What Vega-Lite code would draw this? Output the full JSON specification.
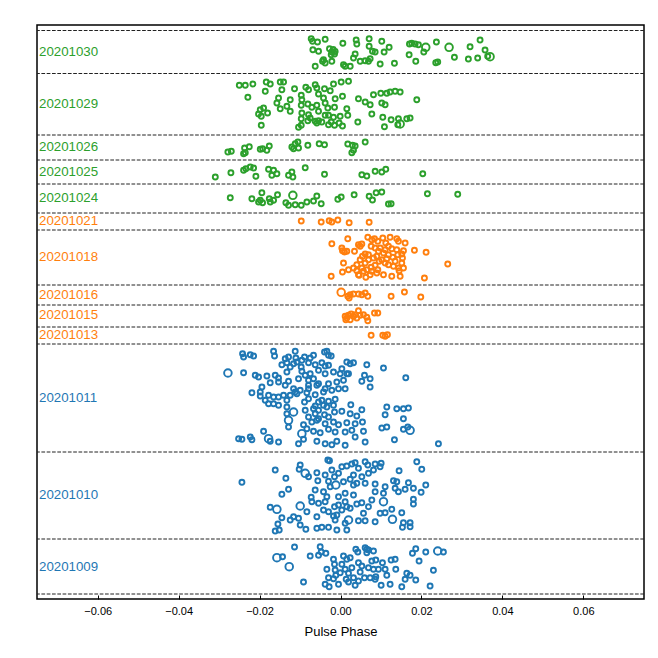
{
  "$schema": "https://vega.github.io/schema/vega-lite/v6.json",
  "width": 607,
  "height": 574,
  "autosize": {"type": "none"},
  "padding": {"left": 37, "top": 25, "right": 14, "bottom": 59},
  "config": {
    "view": {"stroke": "black", "strokeWidth": 1.5},
    "font": "Liberation Sans"
  },
  "datasets": {
    "bounds": [
      {"row": 5}, {"row": 60}, {"row": 147}, {"row": 255}, {"row": 272}, {"row": 294}, {"row": 314},
      {"row": 369}, {"row": 386}, {"row": 415}, {"row": 439}, {"row": 464}, {"row": 525.5}, {"row": 568.5}
    ],
    "labels": [
      {"day": "20201030", "row": 547}, {"day": "20201029", "row": 495}, {"day": "20201026", "row": 452},
      {"day": "20201025", "row": 427}, {"day": "20201024", "row": 401}, {"day": "20201021", "row": 378},
      {"day": "20201018", "row": 342}, {"day": "20201016", "row": 304}, {"day": "20201015", "row": 284},
      {"day": "20201013", "row": 264}, {"day": "20201011", "row": 201}, {"day": "20201010", "row": 104},
      {"day": "20201009", "row": 32}
    ],
    "pulses": [
      {"day": "20201030", "phase": -0.00724, "row": 560.3},
      {"day": "20201030", "phase": -0.00691, "row": 557.7},
      {"day": "20201030", "phase": -0.00568, "row": 557},
      {"day": "20201030", "phase": -0.00379, "row": 559.7},
      {"day": "20201030", "phase": -0.00683, "row": 549.3},
      {"day": "20201030", "phase": -0.00543, "row": 547.7},
      {"day": "20201030", "phase": -0.00272, "row": 550.3},
      {"day": "20201030", "phase": -0.00214, "row": 547},
      {"day": "20201030", "phase": -0.00148, "row": 545},
      {"day": "20201030", "phase": -0.0023, "row": 544.3},
      {"day": "20201030", "phase": -0.0042, "row": 539.3},
      {"day": "20201030", "phase": -0.00444, "row": 537.7},
      {"day": "20201030", "phase": -0.00379, "row": 536},
      {"day": "20201030", "phase": -0.00625, "row": 532.7},
      {"day": "20201030", "phase": -0.00214, "row": 537.7},
      {"day": "20201030", "phase": 0.00074, "row": 534.3},
      {"day": "20201030", "phase": 0.00115, "row": 532.7},
      {"day": "20201030", "phase": 0.0024, "row": 532.7},
      {"day": "20201030", "phase": 0.00058, "row": 555.7},
      {"day": "20201030", "phase": 0.00387, "row": 559},
      {"day": "20201030", "phase": 0.00403, "row": 555},
      {"day": "20201030", "phase": 0.00362, "row": 545},
      {"day": "20201030", "phase": 0.00321, "row": 541},
      {"day": "20201030", "phase": 0.00486, "row": 537.7},
      {"day": "20201030", "phase": 0.0061, "row": 538.3},
      {"day": "20201030", "phase": 0.00708, "row": 560.3},
      {"day": "20201030", "phase": 0.00708, "row": 552.7},
      {"day": "20201030", "phase": 0.00733, "row": 540.3},
      {"day": "20201030", "phase": 0.00691, "row": 537.7},
      {"day": "20201030", "phase": 0.0079, "row": 547.7},
      {"day": "20201030", "phase": 0.00856, "row": 547},
      {"day": "20201030", "phase": 0.0102, "row": 557.7},
      {"day": "20201030", "phase": 0.01078, "row": 547},
      {"day": "20201030", "phase": 0.01202, "row": 551.7},
      {"day": "20201030", "phase": 0.0098, "row": 535},
      {"day": "20201030", "phase": 0.01333, "row": 535.7},
      {"day": "20201030", "phase": 0.01704, "row": 555},
      {"day": "20201030", "phase": 0.0176, "row": 555.7},
      {"day": "20201030", "phase": 0.01844, "row": 555},
      {"day": "20201030", "phase": 0.01926, "row": 554.3},
      {"day": "20201030", "phase": 0.02107, "row": 551.7, "big": 1},
      {"day": "20201030", "phase": 0.02058, "row": 547},
      {"day": "20201030", "phase": 0.0186, "row": 537.7},
      {"day": "20201030", "phase": 0.01696, "row": 544.3},
      {"day": "20201030", "phase": 0.0237, "row": 557},
      {"day": "20201030", "phase": 0.02354, "row": 536.3},
      {"day": "20201030", "phase": 0.02403, "row": 537},
      {"day": "20201030", "phase": 0.02683, "row": 551.7, "big": 1},
      {"day": "20201030", "phase": 0.02815, "row": 541.7},
      {"day": "20201030", "phase": 0.0316, "row": 540},
      {"day": "20201030", "phase": 0.03202, "row": 552.3},
      {"day": "20201030", "phase": 0.0339, "row": 541},
      {"day": "20201030", "phase": 0.03449, "row": 559},
      {"day": "20201030", "phase": 0.03572, "row": 549},
      {"day": "20201030", "phase": 0.03637, "row": 542.7},
      {"day": "20201030", "phase": 0.03696, "row": 542.3, "big": 1},
      {"day": "20201030", "phase": -0.00181, "row": 549.5},
      {"day": "20201030", "phase": -0.00132, "row": 547.5},

      {"day": "20201029", "phase": -0.02501, "row": 513.7},
      {"day": "20201029", "phase": -0.02353, "row": 513.7},
      {"day": "20201029", "phase": -0.02165, "row": 515},
      {"day": "20201029", "phase": -0.02289, "row": 501.7},
      {"day": "20201029", "phase": -0.01835, "row": 517},
      {"day": "20201029", "phase": -0.01736, "row": 515},
      {"day": "20201029", "phase": -0.01859, "row": 507.7},
      {"day": "20201029", "phase": -0.01489, "row": 517},
      {"day": "20201029", "phase": -0.01407, "row": 517},
      {"day": "20201029", "phase": -0.01449, "row": 509.3},
      {"day": "20201029", "phase": -0.01136, "row": 510.3},
      {"day": "20201029", "phase": -0.00857, "row": 511.7},
      {"day": "20201029", "phase": -0.0079, "row": 509.3},
      {"day": "20201029", "phase": -0.00625, "row": 514.3},
      {"day": "20201029", "phase": -0.00585, "row": 511},
      {"day": "20201029", "phase": -0.00395, "row": 510.3},
      {"day": "20201029", "phase": -0.00173, "row": 515},
      {"day": "20201029", "phase": 0.00017, "row": 517},
      {"day": "20201029", "phase": 0.00198, "row": 517.7},
      {"day": "20201029", "phase": -0.00254, "row": 508.3},
      {"day": "20201029", "phase": -0.00543, "row": 505},
      {"day": "20201029", "phase": -0.0097, "row": 503.7},
      {"day": "20201029", "phase": -0.00955, "row": 499.3},
      {"day": "20201029", "phase": -0.01242, "row": 499.3},
      {"day": "20201029", "phase": -0.01531, "row": 501},
      {"day": "20201029", "phase": -0.01572, "row": 496},
      {"day": "20201029", "phase": -0.01489, "row": 490.3},
      {"day": "20201029", "phase": -0.01325, "row": 492.7},
      {"day": "20201029", "phase": -0.01242, "row": 487.7},
      {"day": "20201029", "phase": -0.0097, "row": 493.7},
      {"day": "20201029", "phase": -0.00807, "row": 495},
      {"day": "20201029", "phase": -0.00708, "row": 491.7},
      {"day": "20201029", "phase": -0.00585, "row": 493.7},
      {"day": "20201029", "phase": -0.0042, "row": 501},
      {"day": "20201029", "phase": -0.00379, "row": 496},
      {"day": "20201029", "phase": -0.00313, "row": 491},
      {"day": "20201029", "phase": -0.00132, "row": 500.3},
      {"day": "20201029", "phase": 0.00049, "row": 502.7},
      {"day": "20201029", "phase": 0.00156, "row": 490.3},
      {"day": "20201029", "phase": -0.00148, "row": 491.7},
      {"day": "20201029", "phase": -0.00543, "row": 487.7},
      {"day": "20201029", "phase": -0.00955, "row": 486},
      {"day": "20201029", "phase": -0.0079, "row": 484.3},
      {"day": "20201029", "phase": -0.00749, "row": 481},
      {"day": "20201029", "phase": -0.0097, "row": 480.3},
      {"day": "20201029", "phase": -0.00625, "row": 477.7},
      {"day": "20201029", "phase": -0.00543, "row": 478.3},
      {"day": "20201029", "phase": -0.00379, "row": 483.7},
      {"day": "20201029", "phase": -0.00296, "row": 483.7},
      {"day": "20201029", "phase": -0.00173, "row": 481.7},
      {"day": "20201029", "phase": -0.00008, "row": 482.7},
      {"day": "20201029", "phase": -0.0023, "row": 477},
      {"day": "20201029", "phase": -0.00148, "row": 473.7},
      {"day": "20201029", "phase": -0.00296, "row": 474.3},
      {"day": "20201029", "phase": -0.00461, "row": 477},
      {"day": "20201029", "phase": -0.00585, "row": 476},
      {"day": "20201029", "phase": -0.00807, "row": 478.3},
      {"day": "20201029", "phase": -0.01037, "row": 471.7},
      {"day": "20201029", "phase": -0.0097, "row": 473.7},
      {"day": "20201029", "phase": -0.01958, "row": 473.7},
      {"day": "20201029", "phase": -0.01983, "row": 489.3},
      {"day": "20201029", "phase": -0.01901, "row": 491},
      {"day": "20201029", "phase": -0.02025, "row": 485},
      {"day": "20201029", "phase": -0.01958, "row": 482.7},
      {"day": "20201029", "phase": -0.01802, "row": 486},
      {"day": "20201029", "phase": -0.00033, "row": 476},
      {"day": "20201029", "phase": 0.00049, "row": 473},
      {"day": "20201029", "phase": 0.0018, "row": 483.7},
      {"day": "20201029", "phase": 0.00428, "row": 477},
      {"day": "20201029", "phase": 0.00444, "row": 500.3},
      {"day": "20201029", "phase": 0.0061, "row": 497},
      {"day": "20201029", "phase": 0.00733, "row": 494.3},
      {"day": "20201029", "phase": 0.00815, "row": 504.3},
      {"day": "20201029", "phase": 0.00996, "row": 505.7},
      {"day": "20201029", "phase": 0.0102, "row": 496},
      {"day": "20201029", "phase": 0.01103, "row": 494.3},
      {"day": "20201029", "phase": 0.01144, "row": 505.7},
      {"day": "20201029", "phase": 0.01226, "row": 507},
      {"day": "20201029", "phase": 0.0135, "row": 507.7},
      {"day": "20201029", "phase": 0.01474, "row": 507},
      {"day": "20201029", "phase": 0.01885, "row": 499.3},
      {"day": "20201029", "phase": 0.00774, "row": 485},
      {"day": "20201029", "phase": 0.01045, "row": 481.7},
      {"day": "20201029", "phase": 0.01251, "row": 479.3},
      {"day": "20201029", "phase": 0.01432, "row": 480.3},
      {"day": "20201029", "phase": 0.01474, "row": 475, "big": 1},
      {"day": "20201029", "phase": 0.01638, "row": 480.3},
      {"day": "20201029", "phase": 0.0172, "row": 481},
      {"day": "20201029", "phase": 0.01086, "row": 472.3},
      {"day": "20201029", "phase": 0.01416, "row": 474.3},

      {"day": "20201026", "phase": -0.02783, "row": 447},
      {"day": "20201026", "phase": -0.02699, "row": 447.7},
      {"day": "20201026", "phase": -0.0237, "row": 451},
      {"day": "20201026", "phase": -0.02353, "row": 446.3},
      {"day": "20201026", "phase": -0.02395, "row": 445.3},
      {"day": "20201026", "phase": -0.02254, "row": 452.3},
      {"day": "20201026", "phase": -0.01983, "row": 449.7},
      {"day": "20201026", "phase": -0.01926, "row": 450.3},
      {"day": "20201026", "phase": -0.0182, "row": 448.7},
      {"day": "20201026", "phase": -0.0176, "row": 453},
      {"day": "20201026", "phase": -0.01202, "row": 452},
      {"day": "20201026", "phase": -0.01119, "row": 455.3},
      {"day": "20201026", "phase": -0.01053, "row": 457},
      {"day": "20201026", "phase": -0.0116, "row": 450.3},
      {"day": "20201026", "phase": -0.01037, "row": 451},
      {"day": "20201026", "phase": -0.00807, "row": 453.7},
      {"day": "20201026", "phase": -0.00527, "row": 455.3},
      {"day": "20201026", "phase": -0.00395, "row": 454.3},
      {"day": "20201026", "phase": 0.0018, "row": 455},
      {"day": "20201026", "phase": 0.00296, "row": 453.7},
      {"day": "20201026", "phase": 0.00362, "row": 453},
      {"day": "20201026", "phase": 0.00321, "row": 448.7},
      {"day": "20201026", "phase": 0.0028, "row": 446.3},
      {"day": "20201026", "phase": 0.0061, "row": 457},

      {"day": "20201025", "phase": -0.03094, "row": 422},
      {"day": "20201025", "phase": -0.02708, "row": 426.3},
      {"day": "20201025", "phase": -0.02395, "row": 428.7},
      {"day": "20201025", "phase": -0.02338, "row": 430.3},
      {"day": "20201025", "phase": -0.0223, "row": 432},
      {"day": "20201025", "phase": -0.02148, "row": 431},
      {"day": "20201025", "phase": -0.02091, "row": 422.7},
      {"day": "20201025", "phase": -0.01778, "row": 429.7},
      {"day": "20201025", "phase": -0.01654, "row": 428.7},
      {"day": "20201025", "phase": -0.01696, "row": 423.7},
      {"day": "20201025", "phase": -0.01572, "row": 425.3},
      {"day": "20201025", "phase": -0.01284, "row": 423.7},
      {"day": "20201025", "phase": -0.01202, "row": 427},
      {"day": "20201025", "phase": -0.01177, "row": 422},
      {"day": "20201025", "phase": -0.00872, "row": 431.3},
      {"day": "20201025", "phase": -0.00395, "row": 424.7},
      {"day": "20201025", "phase": 0.00527, "row": 424.3},
      {"day": "20201025", "phase": 0.0065, "row": 423},
      {"day": "20201025", "phase": 0.00856, "row": 427.7},
      {"day": "20201025", "phase": 0.0102, "row": 427},
      {"day": "20201025", "phase": 0.01119, "row": 429.7},
      {"day": "20201025", "phase": 0.02033, "row": 425.3},

      {"day": "20201024", "phase": -0.02724, "row": 401.3},
      {"day": "20201024", "phase": -0.0219, "row": 400.3},
      {"day": "20201024", "phase": -0.01983, "row": 398.7},
      {"day": "20201024", "phase": -0.01943, "row": 406.3},
      {"day": "20201024", "phase": -0.01926, "row": 396.3},
      {"day": "20201024", "phase": -0.02025, "row": 397},
      {"day": "20201024", "phase": -0.0176, "row": 400.3},
      {"day": "20201024", "phase": -0.01736, "row": 397},
      {"day": "20201024", "phase": -0.01654, "row": 398.7},
      {"day": "20201024", "phase": -0.01556, "row": 404.3},
      {"day": "20201024", "phase": -0.01177, "row": 403.7, "big": 1},
      {"day": "20201024", "phase": -0.0135, "row": 396.3},
      {"day": "20201024", "phase": -0.01284, "row": 393.7},
      {"day": "20201024", "phase": -0.01119, "row": 394.3},
      {"day": "20201024", "phase": -0.0097, "row": 393.7},
      {"day": "20201024", "phase": -0.00831, "row": 397},
      {"day": "20201024", "phase": -0.00667, "row": 398},
      {"day": "20201024", "phase": -0.00585, "row": 403},
      {"day": "20201024", "phase": -0.00477, "row": 395.3},
      {"day": "20201024", "phase": -0.00066, "row": 399.7},
      {"day": "20201024", "phase": 0.00017, "row": 402},
      {"day": "20201024", "phase": 0.00337, "row": 404.3},
      {"day": "20201024", "phase": 0.00708, "row": 402.7},
      {"day": "20201024", "phase": 0.0079, "row": 399},
      {"day": "20201024", "phase": 0.00881, "row": 406.3},
      {"day": "20201024", "phase": 0.0102, "row": 407},
      {"day": "20201024", "phase": 0.01185, "row": 395},
      {"day": "20201024", "phase": 0.01251, "row": 395.3},
      {"day": "20201024", "phase": 0.02148, "row": 405.3},
      {"day": "20201024", "phase": 0.02897, "row": 404.7},

      {"day": "20201021", "phase": -0.0097, "row": 378},
      {"day": "20201021", "phase": -0.00477, "row": 377},
      {"day": "20201021", "phase": -0.0028, "row": 378.3},
      {"day": "20201021", "phase": -0.00214, "row": 377},
      {"day": "20201021", "phase": -0.00066, "row": 379},
      {"day": "20201021", "phase": 0.00214, "row": 376.3},
      {"day": "20201021", "phase": 0.00708, "row": 376.7},

      {"day": "20201018", "phase": -0.00214, "row": 355.3},
      {"day": "20201018", "phase": 0.0018, "row": 360.3},
      {"day": "20201018", "phase": 0.00033, "row": 351},
      {"day": "20201018", "phase": 0.00099, "row": 347},
      {"day": "20201018", "phase": 0.00049, "row": 348.3},
      {"day": "20201018", "phase": 0.00156, "row": 347.7},
      {"day": "20201018", "phase": 0.00346, "row": 347.7},
      {"day": "20201018", "phase": 0.00444, "row": 354.3},
      {"day": "20201018", "phase": 0.00527, "row": 355},
      {"day": "20201018", "phase": 0.00486, "row": 352.7},
      {"day": "20201018", "phase": 0.00675, "row": 361.7},
      {"day": "20201018", "phase": 0.00774, "row": 359.3},
      {"day": "20201018", "phase": 0.0084, "row": 360.3},
      {"day": "20201018", "phase": 0.00922, "row": 357.7},
      {"day": "20201018", "phase": 0.01045, "row": 361},
      {"day": "20201018", "phase": 0.01119, "row": 356},
      {"day": "20201018", "phase": 0.01226, "row": 361.7},
      {"day": "20201018", "phase": 0.0139, "row": 360.3},
      {"day": "20201018", "phase": 0.01432, "row": 357.7},
      {"day": "20201018", "phase": 0.01597, "row": 356},
      {"day": "20201018", "phase": 0.01185, "row": 352.7},
      {"day": "20201018", "phase": 0.0098, "row": 351},
      {"day": "20201018", "phase": 0.01103, "row": 349.3},
      {"day": "20201018", "phase": 0.01267, "row": 350.3},
      {"day": "20201018", "phase": 0.0139, "row": 349.3},
      {"day": "20201018", "phase": 0.01556, "row": 348.3},
      {"day": "20201018", "phase": 0.01514, "row": 345},
      {"day": "20201018", "phase": 0.01416, "row": 344.3},
      {"day": "20201018", "phase": 0.01292, "row": 341.7},
      {"day": "20201018", "phase": 0.01185, "row": 344.3},
      {"day": "20201018", "phase": 0.01062, "row": 346},
      {"day": "20201018", "phase": 0.00938, "row": 347.7},
      {"day": "20201018", "phase": 0.00856, "row": 351},
      {"day": "20201018", "phase": 0.00757, "row": 352.7},
      {"day": "20201018", "phase": 0.00691, "row": 344.3},
      {"day": "20201018", "phase": 0.0061, "row": 345},
      {"day": "20201018", "phase": 0.00543, "row": 342.7},
      {"day": "20201018", "phase": 0.00486, "row": 339.3},
      {"day": "20201018", "phase": 0.00403, "row": 334.3},
      {"day": "20201018", "phase": 0.00321, "row": 331},
      {"day": "20201018", "phase": 0.00198, "row": 329.3},
      {"day": "20201018", "phase": 0.00074, "row": 336},
      {"day": "20201018", "phase": 0.00049, "row": 327},
      {"day": "20201018", "phase": -0.0023, "row": 322.7},
      {"day": "20201018", "phase": 0.00403, "row": 328.3},
      {"day": "20201018", "phase": 0.00461, "row": 323.7},
      {"day": "20201018", "phase": 0.00568, "row": 327.7},
      {"day": "20201018", "phase": 0.0065, "row": 329.3},
      {"day": "20201018", "phase": 0.00757, "row": 331.7},
      {"day": "20201018", "phase": 0.00856, "row": 333.7},
      {"day": "20201018", "phase": 0.00955, "row": 337.7},
      {"day": "20201018", "phase": 0.0102, "row": 339.3},
      {"day": "20201018", "phase": 0.01103, "row": 336},
      {"day": "20201018", "phase": 0.01185, "row": 334.3},
      {"day": "20201018", "phase": 0.01309, "row": 332.7},
      {"day": "20201018", "phase": 0.01432, "row": 331},
      {"day": "20201018", "phase": 0.01514, "row": 336},
      {"day": "20201018", "phase": 0.01531, "row": 341},
      {"day": "20201018", "phase": 0.01449, "row": 328.3},
      {"day": "20201018", "phase": 0.01474, "row": 322.7},
      {"day": "20201018", "phase": 0.01267, "row": 322.7},
      {"day": "20201018", "phase": 0.01062, "row": 324.3},
      {"day": "20201018", "phase": 0.00897, "row": 326},
      {"day": "20201018", "phase": 0.00733, "row": 324.3},
      {"day": "20201018", "phase": 0.00626, "row": 321.7},
      {"day": "20201018", "phase": 0.00444, "row": 324.3},
      {"day": "20201018", "phase": 0.01827, "row": 348.7},
      {"day": "20201018", "phase": 0.02115, "row": 346.7},
      {"day": "20201018", "phase": 0.02074, "row": 321},
      {"day": "20201018", "phase": 0.0265, "row": 335},
      {"day": "20201018", "phase": 0.00815, "row": 341},
      {"day": "20201018", "phase": 0.00897, "row": 342.7},
      {"day": "20201018", "phase": 0.01144, "row": 340.3},
      {"day": "20201018", "phase": 0.0135, "row": 337.7},
      {"day": "20201018", "phase": 0.01556, "row": 331},
      {"day": "20201018", "phase": 0.0061, "row": 336},
      {"day": "20201018", "phase": 0.00691, "row": 339.3},
      {"day": "20201018", "phase": 0.00527, "row": 331},
      {"day": "20201018", "phase": 0.00774, "row": 327.7},
      {"day": "20201018", "phase": 0.00922, "row": 329.3},

      {"day": "20201016", "phase": 0.00017, "row": 306.7, "big": 1},
      {"day": "20201016", "phase": 0.0018, "row": 302.7},
      {"day": "20201016", "phase": 0.0024, "row": 304.3},
      {"day": "20201016", "phase": 0.00321, "row": 305},
      {"day": "20201016", "phase": 0.00444, "row": 305},
      {"day": "20201016", "phase": 0.00527, "row": 304.3},
      {"day": "20201016", "phase": 0.0061, "row": 306},
      {"day": "20201016", "phase": 0.00675, "row": 302.7},
      {"day": "20201016", "phase": 0.00214, "row": 301},
      {"day": "20201016", "phase": 0.01251, "row": 302.7},
      {"day": "20201016", "phase": 0.0158, "row": 307},
      {"day": "20201016", "phase": 0.01984, "row": 302},

      {"day": "20201015", "phase": 0.00115, "row": 282.7},
      {"day": "20201015", "phase": 0.00156, "row": 281},
      {"day": "20201015", "phase": 0.00198, "row": 283.7},
      {"day": "20201015", "phase": 0.00263, "row": 285},
      {"day": "20201015", "phase": 0.00321, "row": 282.7},
      {"day": "20201015", "phase": 0.00362, "row": 284.3},
      {"day": "20201015", "phase": 0.00444, "row": 288.3},
      {"day": "20201015", "phase": 0.00486, "row": 283.7},
      {"day": "20201015", "phase": 0.00568, "row": 284.3},
      {"day": "20201015", "phase": 0.0065, "row": 281.7},
      {"day": "20201015", "phase": 0.00675, "row": 278.3},
      {"day": "20201015", "phase": 0.0024, "row": 279.3},
      {"day": "20201015", "phase": 0.00132, "row": 279.3},
      {"day": "20201015", "phase": 0.00403, "row": 281},
      {"day": "20201015", "phase": 0.0084, "row": 286},
      {"day": "20201015", "phase": 0.00922, "row": 286},

      {"day": "20201013", "phase": 0.00757, "row": 263.7},
      {"day": "20201013", "phase": 0.01045, "row": 263.7},
      {"day": "20201013", "phase": 0.01103, "row": 262.7},
      {"day": "20201013", "phase": 0.0116, "row": 264.3},

      {"day": "20201011", "phase": -0.0242, "row": 245.3},
      {"day": "20201011", "phase": -0.02395, "row": 242},
      {"day": "20201011", "phase": -0.0223, "row": 244.3},
      {"day": "20201011", "phase": -0.02148, "row": 243},
      {"day": "20201011", "phase": -0.01654, "row": 247.7},
      {"day": "20201011", "phase": -0.0163, "row": 243},
      {"day": "20201011", "phase": -0.01366, "row": 240.3},
      {"day": "20201011", "phase": -0.01284, "row": 242},
      {"day": "20201011", "phase": -0.01119, "row": 247.7},
      {"day": "20201011", "phase": -0.01103, "row": 241},
      {"day": "20201011", "phase": -0.00889, "row": 242},
      {"day": "20201011", "phase": -0.00749, "row": 241},
      {"day": "20201011", "phase": -0.00667, "row": 243.7},
      {"day": "20201011", "phase": -0.00395, "row": 247},
      {"day": "20201011", "phase": -0.00337, "row": 247.7},
      {"day": "20201011", "phase": -0.00296, "row": 243.7},
      {"day": "20201011", "phase": -0.0023, "row": 243},
      {"day": "20201011", "phase": 0.00156, "row": 237},
      {"day": "20201011", "phase": 0.00239, "row": 235.3},
      {"day": "20201011", "phase": 0.00321, "row": 236.3},
      {"day": "20201011", "phase": -0.01449, "row": 234.3},
      {"day": "20201011", "phase": -0.01325, "row": 236.3},
      {"day": "20201011", "phase": -0.01243, "row": 232},
      {"day": "20201011", "phase": -0.0116, "row": 235.3},
      {"day": "20201011", "phase": -0.00971, "row": 232},
      {"day": "20201011", "phase": -0.0079, "row": 236.3},
      {"day": "20201011", "phase": -0.00625, "row": 234.3},
      {"day": "20201011", "phase": -0.00461, "row": 236.3},
      {"day": "20201011", "phase": -0.00379, "row": 233},
      {"day": "20201011", "phase": -0.00296, "row": 233.7},
      {"day": "20201011", "phase": 0.00033, "row": 230.3},
      {"day": "20201011", "phase": 0.00156, "row": 225.3},
      {"day": "20201011", "phase": 0.0065, "row": 234.3},
      {"day": "20201011", "phase": 0.01062, "row": 231},
      {"day": "20201011", "phase": -0.02782, "row": 226, "big": 1},
      {"day": "20201011", "phase": -0.02395, "row": 226.3},
      {"day": "20201011", "phase": -0.02107, "row": 223.7},
      {"day": "20201011", "phase": -0.02025, "row": 222},
      {"day": "20201011", "phase": -0.01819, "row": 223},
      {"day": "20201011", "phase": -0.01613, "row": 223.7},
      {"day": "20201011", "phase": -0.01531, "row": 221},
      {"day": "20201011", "phase": -0.01325, "row": 227},
      {"day": "20201011", "phase": -0.00955, "row": 227.7},
      {"day": "20201011", "phase": -0.00749, "row": 225.3},
      {"day": "20201011", "phase": -0.00543, "row": 228.7},
      {"day": "20201011", "phase": -0.00379, "row": 225.3},
      {"day": "20201011", "phase": -0.00173, "row": 227},
      {"day": "20201011", "phase": -0.00008, "row": 225.3},
      {"day": "20201011", "phase": 0.00198, "row": 225.3},
      {"day": "20201011", "phase": 0.00593, "row": 223.7},
      {"day": "20201011", "phase": 0.00732, "row": 220.3},
      {"day": "20201011", "phase": 0.01613, "row": 221.3},
      {"day": "20201011", "phase": -0.01737, "row": 216.3},
      {"day": "20201011", "phase": -0.01531, "row": 217},
      {"day": "20201011", "phase": -0.01284, "row": 217.7},
      {"day": "20201011", "phase": -0.01037, "row": 220.3},
      {"day": "20201011", "phase": -0.0079, "row": 218.7},
      {"day": "20201011", "phase": -0.00543, "row": 215.3},
      {"day": "20201011", "phase": -0.0079, "row": 213.7},
      {"day": "20201011", "phase": -0.00296, "row": 215.3},
      {"day": "20201011", "phase": -0.00091, "row": 217},
      {"day": "20201011", "phase": 0.00074, "row": 218.7},
      {"day": "20201011", "phase": -0.00049, "row": 210.3},
      {"day": "20201011", "phase": 0.00115, "row": 210.3},
      {"day": "20201011", "phase": -0.00214, "row": 208.7},
      {"day": "20201011", "phase": -0.00379, "row": 210.3},
      {"day": "20201011", "phase": -0.00584, "row": 213.7},
      {"day": "20201011", "phase": 0.00527, "row": 217.7},
      {"day": "20201011", "phase": 0.00732, "row": 212},
      {"day": "20201011", "phase": -0.01942, "row": 212},
      {"day": "20201011", "phase": -0.01983, "row": 207},
      {"day": "20201011", "phase": -0.02189, "row": 206.3},
      {"day": "20201011", "phase": -0.00996, "row": 208.7},
      {"day": "20201011", "phase": -0.01119, "row": 207},
      {"day": "20201011", "phase": -0.01078, "row": 205.3},
      {"day": "20201011", "phase": -0.00831, "row": 206.3},
      {"day": "20201011", "phase": -0.00625, "row": 204.3},
      {"day": "20201011", "phase": -0.0042, "row": 207},
      {"day": "20201011", "phase": -0.01983, "row": 203},
      {"day": "20201011", "phase": -0.01778, "row": 203.7},
      {"day": "20201011", "phase": -0.01654, "row": 202},
      {"day": "20201011", "phase": -0.01531, "row": 202},
      {"day": "20201011", "phase": -0.01407, "row": 203.7},
      {"day": "20201011", "phase": -0.01243, "row": 203.7},
      {"day": "20201011", "phase": -0.0079, "row": 200.3},
      {"day": "20201011", "phase": -0.0186, "row": 198.7},
      {"day": "20201011", "phase": -0.01778, "row": 195.3},
      {"day": "20201011", "phase": -0.01654, "row": 195.3},
      {"day": "20201011", "phase": -0.01531, "row": 193.7},
      {"day": "20201011", "phase": -0.01325, "row": 198.7},
      {"day": "20201011", "phase": -0.00889, "row": 197},
      {"day": "20201011", "phase": -0.00543, "row": 197},
      {"day": "20201011", "phase": -0.00461, "row": 198.7},
      {"day": "20201011", "phase": -0.00296, "row": 197.7},
      {"day": "20201011", "phase": -0.00132, "row": 199.7},
      {"day": "20201011", "phase": -0.01325, "row": 192},
      {"day": "20201011", "phase": -0.00625, "row": 193},
      {"day": "20201011", "phase": -0.0042, "row": 193.7},
      {"day": "20201011", "phase": -0.00337, "row": 192},
      {"day": "20201011", "phase": -0.00173, "row": 193.7},
      {"day": "20201011", "phase": 0.00255, "row": 194.3},
      {"day": "20201011", "phase": 0.00527, "row": 189.3},
      {"day": "20201011", "phase": -0.0116, "row": 187, "big": 1},
      {"day": "20201011", "phase": -0.01325, "row": 185.3},
      {"day": "20201011", "phase": -0.00872, "row": 188.7},
      {"day": "20201011", "phase": -0.00667, "row": 190.3},
      {"day": "20201011", "phase": -0.00543, "row": 188.7},
      {"day": "20201011", "phase": -0.00395, "row": 184.3},
      {"day": "20201011", "phase": -0.00148, "row": 187},
      {"day": "20201011", "phase": 0.00033, "row": 187.7},
      {"day": "20201011", "phase": 0.00239, "row": 185.3},
      {"day": "20201011", "phase": 0.00403, "row": 183},
      {"day": "20201011", "phase": 0.01144, "row": 192},
      {"day": "20201011", "phase": 0.01391, "row": 190.3},
      {"day": "20201011", "phase": 0.01555, "row": 190.3},
      {"day": "20201011", "phase": 0.01679, "row": 191},
      {"day": "20201011", "phase": 0.01103, "row": 184.3},
      {"day": "20201011", "phase": 0.01555, "row": 180.3},
      {"day": "20201011", "phase": -0.01284, "row": 178.7, "big": 1},
      {"day": "20201011", "phase": -0.0079, "row": 182},
      {"day": "20201011", "phase": -0.00708, "row": 177},
      {"day": "20201011", "phase": -0.00584, "row": 178.7},
      {"day": "20201011", "phase": -0.00379, "row": 175.3},
      {"day": "20201011", "phase": -0.00173, "row": 177},
      {"day": "20201011", "phase": -0.00049, "row": 174.3},
      {"day": "20201011", "phase": 0.00156, "row": 176.3},
      {"day": "20201011", "phase": 0.00362, "row": 175.3},
      {"day": "20201011", "phase": 0.00543, "row": 177},
      {"day": "20201011", "phase": -0.00914, "row": 174.3},
      {"day": "20201011", "phase": -0.00831, "row": 170.3},
      {"day": "20201011", "phase": -0.00955, "row": 165.3, "big": 1},
      {"day": "20201011", "phase": -0.00667, "row": 167.7},
      {"day": "20201011", "phase": -0.00502, "row": 166.3},
      {"day": "20201011", "phase": -0.00296, "row": 169.7},
      {"day": "20201011", "phase": -0.00132, "row": 167},
      {"day": "20201011", "phase": 0.00115, "row": 167},
      {"day": "20201011", "phase": 0.0028, "row": 168.7},
      {"day": "20201011", "phase": 0.00568, "row": 167.7},
      {"day": "20201011", "phase": 0.01021, "row": 171},
      {"day": "20201011", "phase": 0.01144, "row": 172},
      {"day": "20201011", "phase": 0.01555, "row": 169.7},
      {"day": "20201011", "phase": 0.01663, "row": 172},
      {"day": "20201011", "phase": 0.0172, "row": 168.7, "big": 1},
      {"day": "20201011", "phase": -0.01901, "row": 167.7},
      {"day": "20201011", "phase": -0.01284, "row": 172},
      {"day": "20201011", "phase": -0.02518, "row": 160.3},
      {"day": "20201011", "phase": -0.02436, "row": 159.7},
      {"day": "20201011", "phase": -0.0223, "row": 162},
      {"day": "20201011", "phase": -0.02189, "row": 159.3},
      {"day": "20201011", "phase": -0.01778, "row": 160.3, "big": 1},
      {"day": "20201011", "phase": -0.01737, "row": 157.7},
      {"day": "20201011", "phase": -0.01531, "row": 157},
      {"day": "20201011", "phase": -0.01037, "row": 155.3},
      {"day": "20201011", "phase": -0.00914, "row": 159.7},
      {"day": "20201011", "phase": -0.00584, "row": 157.7},
      {"day": "20201011", "phase": -0.00379, "row": 155.3},
      {"day": "20201011", "phase": -0.00214, "row": 154.3},
      {"day": "20201011", "phase": -0.00091, "row": 157.7},
      {"day": "20201011", "phase": 0.00115, "row": 153.7},
      {"day": "20201011", "phase": 0.00362, "row": 162},
      {"day": "20201011", "phase": 0.00609, "row": 157},
      {"day": "20201011", "phase": 0.01333, "row": 159.3},
      {"day": "20201011", "phase": 0.0242, "row": 155.3},
      {"day": "20201011", "phase": -0.0079, "row": 210.3},
      {"day": "20201011", "phase": -0.00667, "row": 220.3},
      {"day": "20201011", "phase": -0.00872, "row": 223.7},
      {"day": "20201011", "phase": -0.01366, "row": 213.7},
      {"day": "20201011", "phase": -0.0116, "row": 210.3},
      {"day": "20201011", "phase": -0.00625, "row": 185.3},
      {"day": "20201011", "phase": -0.00543, "row": 180.3},
      {"day": "20201011", "phase": -0.00296, "row": 182},
      {"day": "20201011", "phase": -0.01078, "row": 237},
      {"day": "20201011", "phase": -0.00955, "row": 238.7},

      {"day": "20201010", "phase": -0.02436, "row": 116.7},
      {"day": "20201010", "phase": -0.01613, "row": 129},
      {"day": "20201010", "phase": -0.0135, "row": 120.7},
      {"day": "20201010", "phase": -0.01449, "row": 104.7},
      {"day": "20201010", "phase": -0.01284, "row": 109.7},
      {"day": "20201010", "phase": -0.01737, "row": 91.7},
      {"day": "20201010", "phase": -0.01572, "row": 89.7, "big": 1},
      {"day": "20201010", "phase": -0.01449, "row": 81.3},
      {"day": "20201010", "phase": -0.01547, "row": 75},
      {"day": "20201010", "phase": -0.01613, "row": 68},
      {"day": "20201010", "phase": -0.01514, "row": 69},
      {"day": "20201010", "phase": -0.0116, "row": 82.3},
      {"day": "20201010", "phase": -0.01037, "row": 80.7},
      {"day": "20201010", "phase": -0.00996, "row": 74},
      {"day": "20201010", "phase": -0.00856, "row": 69.7},
      {"day": "20201010", "phase": -0.00996, "row": 93, "big": 1},
      {"day": "20201010", "phase": -0.00831, "row": 87.3},
      {"day": "20201010", "phase": -0.00996, "row": 134},
      {"day": "20201010", "phase": -0.01021, "row": 129.7},
      {"day": "20201010", "phase": -0.00872, "row": 125.7, "big": 1},
      {"day": "20201010", "phase": -0.0079, "row": 122.3},
      {"day": "20201010", "phase": -0.00584, "row": 126.3},
      {"day": "20201010", "phase": -0.0056, "row": 118.3},
      {"day": "20201010", "phase": -0.00379, "row": 124},
      {"day": "20201010", "phase": -0.00313, "row": 139},
      {"day": "20201010", "phase": -0.00272, "row": 138.3},
      {"day": "20201010", "phase": -0.00214, "row": 129},
      {"day": "20201010", "phase": -0.00148, "row": 122.3},
      {"day": "20201010", "phase": -0.00115, "row": 114, "big": 1},
      {"day": "20201010", "phase": 0.00033, "row": 132.3},
      {"day": "20201010", "phase": 0.00156, "row": 133},
      {"day": "20201010", "phase": 0.0028, "row": 135},
      {"day": "20201010", "phase": 0.00362, "row": 136.3},
      {"day": "20201010", "phase": 0.00444, "row": 130.7},
      {"day": "20201010", "phase": 0.00609, "row": 137.3},
      {"day": "20201010", "phase": 0.00675, "row": 134},
      {"day": "20201010", "phase": 0.00856, "row": 135},
      {"day": "20201010", "phase": 0.01004, "row": 135.7},
      {"day": "20201010", "phase": 0.00321, "row": 124},
      {"day": "20201010", "phase": 0.00403, "row": 115.7},
      {"day": "20201010", "phase": 0.00609, "row": 115.7},
      {"day": "20201010", "phase": 0.00856, "row": 115},
      {"day": "20201010", "phase": 0.01103, "row": 112.3},
      {"day": "20201010", "phase": 0.01309, "row": 118.3},
      {"day": "20201010", "phase": 0.01391, "row": 117.3},
      {"day": "20201010", "phase": 0.01448, "row": 128.3},
      {"day": "20201010", "phase": 0.01679, "row": 116.3},
      {"day": "20201010", "phase": 0.01597, "row": 109.7},
      {"day": "20201010", "phase": 0.01885, "row": 137.3},
      {"day": "20201010", "phase": 0.02008, "row": 129.7},
      {"day": "20201010", "phase": 0.02107, "row": 114},
      {"day": "20201010", "phase": 0.01992, "row": 106.7},
      {"day": "20201010", "phase": 0.01802, "row": 99.7},
      {"day": "20201010", "phase": 0.01802, "row": 95},
      {"day": "20201010", "phase": 0.01514, "row": 86.3},
      {"day": "20201010", "phase": 0.01267, "row": 89.7},
      {"day": "20201010", "phase": 0.01103, "row": 86.3},
      {"day": "20201010", "phase": 0.00979, "row": 85.7},
      {"day": "20201010", "phase": 0.01284, "row": 79.7, "big": 1},
      {"day": "20201010", "phase": 0.01555, "row": 76.3},
      {"day": "20201010", "phase": 0.0172, "row": 76.3},
      {"day": "20201010", "phase": 0.01531, "row": 71.7},
      {"day": "20201010", "phase": 0.0172, "row": 72.3},
      {"day": "20201010", "phase": 0.00856, "row": 77.3},
      {"day": "20201010", "phase": 0.00774, "row": 99},
      {"day": "20201010", "phase": 0.00856, "row": 107.3},
      {"day": "20201010", "phase": 0.01062, "row": 105.7},
      {"day": "20201010", "phase": 0.01062, "row": 97.3, "big": 1},
      {"day": "20201010", "phase": 0.00691, "row": 92.3},
      {"day": "20201010", "phase": 0.00527, "row": 96.3},
      {"day": "20201010", "phase": 0.00403, "row": 95},
      {"day": "20201010", "phase": 0.00568, "row": 85.7},
      {"day": "20201010", "phase": 0.00609, "row": 78.3},
      {"day": "20201010", "phase": 0.00444, "row": 78.3},
      {"day": "20201010", "phase": 0.00198, "row": 79, "big": 1},
      {"day": "20201010", "phase": 0.00115, "row": 75.7},
      {"day": "20201010", "phase": 0.00156, "row": 69},
      {"day": "20201010", "phase": -0.0009, "row": 69},
      {"day": "20201010", "phase": -0.00296, "row": 71.7},
      {"day": "20201010", "phase": -0.00461, "row": 71.7},
      {"day": "20201010", "phase": -0.00584, "row": 70.7},
      {"day": "20201010", "phase": -0.00132, "row": 79},
      {"day": "20201010", "phase": -0.0009, "row": 84},
      {"day": "20201010", "phase": 0.00033, "row": 89},
      {"day": "20201010", "phase": 0.00156, "row": 92.3},
      {"day": "20201010", "phase": 0.00239, "row": 90.7},
      {"day": "20201010", "phase": -0.00148, "row": 92.3},
      {"day": "20201010", "phase": -0.00296, "row": 87.3},
      {"day": "20201010", "phase": -0.0042, "row": 89},
      {"day": "20201010", "phase": -0.00584, "row": 82.3},
      {"day": "20201010", "phase": -0.00379, "row": 97.3},
      {"day": "20201010", "phase": -0.00543, "row": 95.7},
      {"day": "20201010", "phase": -0.00708, "row": 97.3},
      {"day": "20201010", "phase": -0.00724, "row": 101.7},
      {"day": "20201010", "phase": -0.00626, "row": 109},
      {"day": "20201010", "phase": -0.0042, "row": 107.3},
      {"day": "20201010", "phase": -0.00337, "row": 102.3},
      {"day": "20201010", "phase": -0.00049, "row": 102.3},
      {"day": "20201010", "phase": 0.00115, "row": 105.7},
      {"day": "20201010", "phase": 0.00321, "row": 104},
      {"day": "20201010", "phase": 0.00115, "row": 97.3},
      {"day": "20201010", "phase": -0.00049, "row": 94},
      {"day": "20201010", "phase": -0.00173, "row": 83},
      {"day": "20201010", "phase": 0.00074, "row": 117.3},
      {"day": "20201010", "phase": 0.00239, "row": 119.7},
      {"day": "20201010", "phase": 0.00321, "row": 114},
      {"day": "20201010", "phase": -0.00255, "row": 112.3},
      {"day": "20201010", "phase": 0.00527, "row": 122.3},
      {"day": "20201010", "phase": 0.00691, "row": 125.7},
      {"day": "20201010", "phase": 0.00815, "row": 129},
      {"day": "20201010", "phase": 0.00979, "row": 132.3},
      {"day": "20201010", "phase": 0.0135, "row": 110.7},
      {"day": "20201010", "phase": 0.01432, "row": 107.3},
      {"day": "20201010", "phase": 0.01802, "row": 110.7},
      {"day": "20201010", "phase": -0.01243, "row": 79},
      {"day": "20201010", "phase": -0.00296, "row": 117.7},
      {"day": "20201010", "phase": -0.00049, "row": 125.7},

      {"day": "20201009", "phase": -0.01572, "row": 41.3, "big": 1},
      {"day": "20201009", "phase": -0.01432, "row": 42.3},
      {"day": "20201009", "phase": -0.01267, "row": 32.3, "big": 1},
      {"day": "20201009", "phase": -0.01136, "row": 52},
      {"day": "20201009", "phase": -0.00914, "row": 17},
      {"day": "20201009", "phase": -0.00749, "row": 43},
      {"day": "20201009", "phase": -0.00502, "row": 52.3},
      {"day": "20201009", "phase": -0.00477, "row": 47},
      {"day": "20201009", "phase": -0.00362, "row": 45.7},
      {"day": "20201009", "phase": -0.00543, "row": 43.7},
      {"day": "20201009", "phase": -0.00173, "row": 39.7},
      {"day": "20201009", "phase": -0.00148, "row": 34.7},
      {"day": "20201009", "phase": -0.00337, "row": 29.7},
      {"day": "20201009", "phase": -0.00115, "row": 23.7},
      {"day": "20201009", "phase": -0.00379, "row": 14.7},
      {"day": "20201009", "phase": -0.0028, "row": 12.3},
      {"day": "20201009", "phase": -0.00049, "row": 14.7},
      {"day": "20201009", "phase": -0.00173, "row": 20.3},
      {"day": "20201009", "phase": 0.00033, "row": 34.7},
      {"day": "20201009", "phase": 0.00074, "row": 43},
      {"day": "20201009", "phase": 0.00156, "row": 39.7},
      {"day": "20201009", "phase": 0.00239, "row": 41.3},
      {"day": "20201009", "phase": 0.00115, "row": 29.7},
      {"day": "20201009", "phase": 0.00198, "row": 25.7},
      {"day": "20201009", "phase": 0.00198, "row": 17},
      {"day": "20201009", "phase": 0.00362, "row": 13.7},
      {"day": "20201009", "phase": 0.00321, "row": 21.3},
      {"day": "20201009", "phase": 0.00379, "row": 49.7},
      {"day": "20201009", "phase": 0.00428, "row": 47},
      {"day": "20201009", "phase": 0.00444, "row": 36.3},
      {"day": "20201009", "phase": 0.00527, "row": 33},
      {"day": "20201009", "phase": 0.00609, "row": 51.3},
      {"day": "20201009", "phase": 0.00691, "row": 49},
      {"day": "20201009", "phase": 0.0065, "row": 46.3},
      {"day": "20201009", "phase": 0.00815, "row": 48},
      {"day": "20201009", "phase": 0.00774, "row": 38},
      {"day": "20201009", "phase": 0.00691, "row": 31.3},
      {"day": "20201009", "phase": 0.00815, "row": 29.7},
      {"day": "20201009", "phase": 0.00593, "row": 21.3},
      {"day": "20201009", "phase": 0.00732, "row": 21.3},
      {"day": "20201009", "phase": 0.00872, "row": 22.3},
      {"day": "20201009", "phase": 0.01004, "row": 13.7},
      {"day": "20201009", "phase": 0.00872, "row": 39},
      {"day": "20201009", "phase": 0.01037, "row": 36.3},
      {"day": "20201009", "phase": 0.01103, "row": 29.7},
      {"day": "20201009", "phase": 0.01251, "row": 39},
      {"day": "20201009", "phase": 0.0135, "row": 39.7},
      {"day": "20201009", "phase": 0.01226, "row": 14.7},
      {"day": "20201009", "phase": 0.01366, "row": 29.7},
      {"day": "20201009", "phase": 0.01144, "row": 23.7},
      {"day": "20201009", "phase": 0.01514, "row": 12.3},
      {"day": "20201009", "phase": 0.01597, "row": 19.7},
      {"day": "20201009", "phase": 0.01638, "row": 25.7},
      {"day": "20201009", "phase": 0.0172, "row": 23.7},
      {"day": "20201009", "phase": 0.0186, "row": 19},
      {"day": "20201009", "phase": 0.01778, "row": 45.7},
      {"day": "20201009", "phase": 0.0186, "row": 50.3},
      {"day": "20201009", "phase": 0.01942, "row": 38},
      {"day": "20201009", "phase": 0.02107, "row": 47},
      {"day": "20201009", "phase": 0.02403, "row": 48, "big": 1},
      {"day": "20201009", "phase": 0.02543, "row": 47},
      {"day": "20201009", "phase": 0.02296, "row": 28.7},
      {"day": "20201009", "phase": 0.02214, "row": 13},
      {"day": "20201009", "phase": -0.00296, "row": 21.3},
      {"day": "20201009", "phase": -0.00132, "row": 29},
      {"day": "20201009", "phase": -0.00008, "row": 26.3},
      {"day": "20201009", "phase": 0.0028, "row": 31.3},
      {"day": "20201009", "phase": 0.00486, "row": 27},
      {"day": "20201009", "phase": 0.00938, "row": 29.7},
      {"day": "20201009", "phase": 0.00444, "row": 18},
      {"day": "20201009", "phase": 0.0014, "row": 19.7},
      {"day": "20201009", "phase": 0.00856, "row": 19.7},
      {"day": "20201009", "phase": 0.0065, "row": 49.7}
    ]
  },
  "layer": [
    {
      "data": {"name": "bounds"},
      "mark": {"type": "rule", "color": "#222222", "strokeWidth": 1, "strokeDash": [3.7, 1.6]},
      "encoding": {
        "y": {"field": "row", "type": "quantitative", "scale": {"domain": [0, 574], "nice": false, "zero": false}, "axis": null}
      }
    },
    {
      "data": {"name": "pulses"},
      "mark": {"type": "point", "shape": "circle", "filled": false, "strokeWidth": 1.9, "opacity": 1},
      "encoding": {
        "x": {
          "field": "phase",
          "type": "quantitative",
          "title": "Pulse Phase",
          "scale": {"domain": [-0.075, 0.075], "nice": false, "zero": false},
          "axis": {
            "values": [-0.06, -0.04, -0.02, 0, 0.02, 0.04, 0.06],
            "format": ".2f",
            "grid": false,
            "domain": false,
            "tickColor": "black",
            "tickSize": -4,
            "tickWidth": 1,
            "labelPadding": 10,
            "labelFontSize": 11,
            "labelColor": "black",
            "labelFont": "Liberation Sans",
            "titleFont": "Liberation Sans",
            "titleFontSize": 13,
            "titleFontWeight": "normal",
            "titleColor": "black",
            "titlePadding": 9
          }
        },
        "y": {"field": "row", "type": "quantitative", "axis": null},
        "color": {
          "field": "day",
          "type": "nominal",
          "legend": null,
          "scale": {
            "domain": ["20201009", "20201010", "20201011", "20201013", "20201015", "20201016", "20201018", "20201021", "20201024", "20201025", "20201026", "20201029", "20201030"],
            "range": ["#1f77b4", "#1f77b4", "#1f77b4", "#ff7f0e", "#ff7f0e", "#ff7f0e", "#ff7f0e", "#ff7f0e", "#2ca02c", "#2ca02c", "#2ca02c", "#2ca02c", "#2ca02c"]
          }
        },
        "size": {"condition": {"test": "datum.big", "value": 58}, "value": 25}
      }
    },
    {
      "data": {"name": "labels"},
      "mark": {"type": "text", "align": "left", "baseline": "middle", "dx": 2, "fontSize": 13.3, "font": "Liberation Sans"},
      "encoding": {
        "x": {"datum": -0.075, "type": "quantitative"},
        "y": {"field": "row", "type": "quantitative"},
        "text": {"field": "day"},
        "color": {"field": "day", "type": "nominal", "legend": null}
      }
    }
  ]
}
